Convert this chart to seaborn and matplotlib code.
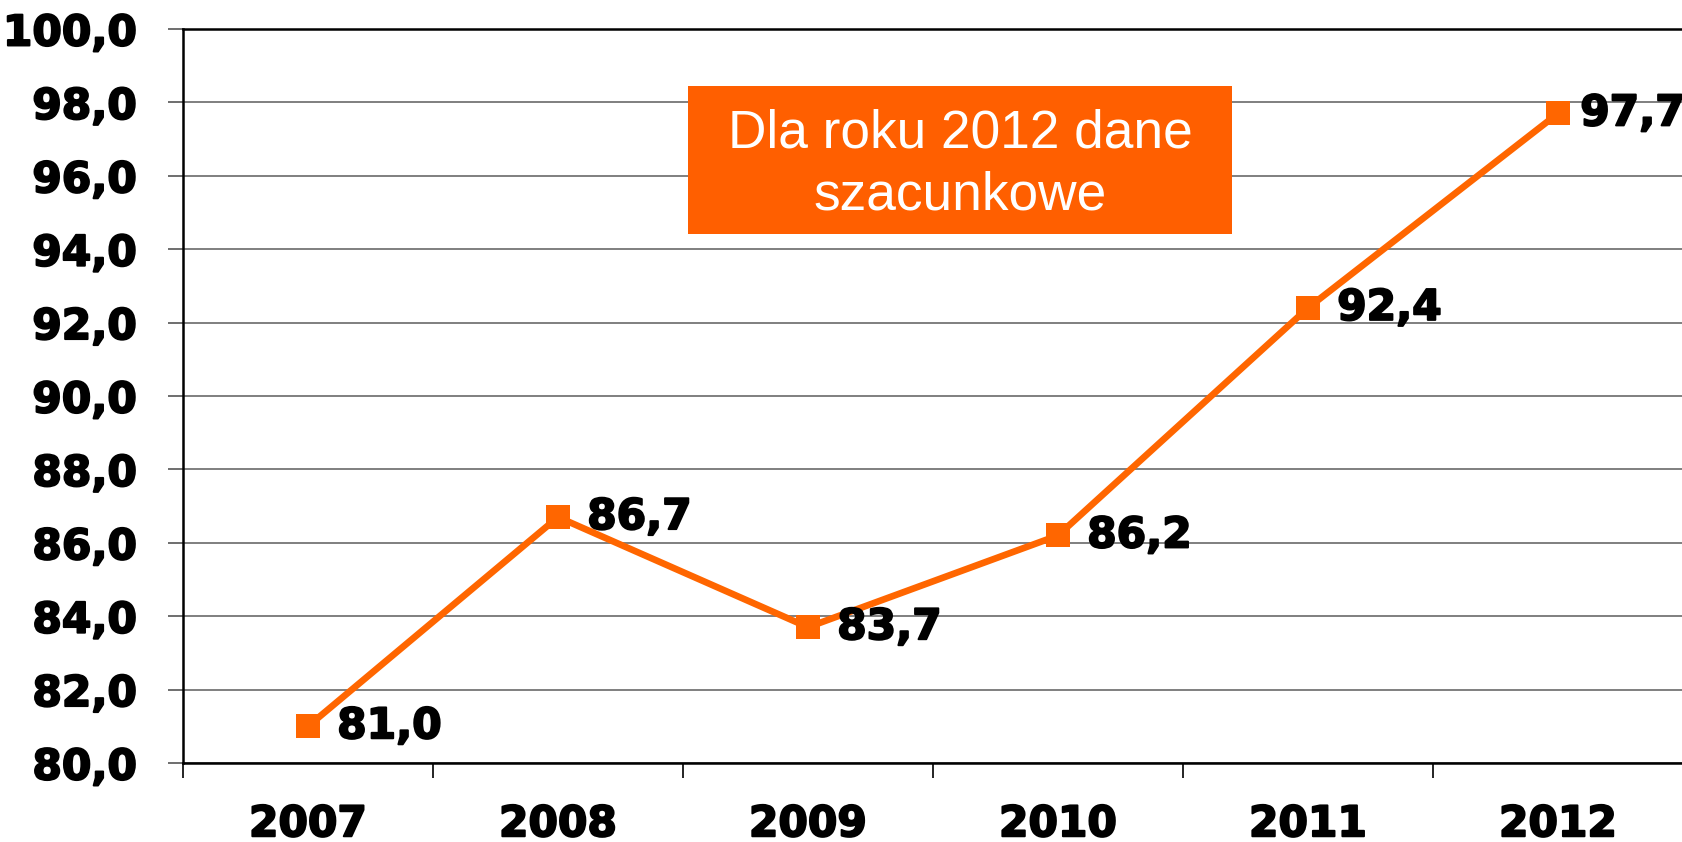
import matplotlib
matplotlib.use("Agg")
import matplotlib.pyplot as plt
import matplotlib.patheffects as pe
from matplotlib.patches import Rectangle
import seaborn as sns
import pandas as pd
from matplotlib.ticker import FuncFormatter, FixedLocator

years = ["2007", "2008", "2009", "2010", "2011", "2012"]
values = [81.0, 86.7, 83.7, 86.2, 92.4, 97.7]
note = "Dla roku 2012 dane\nszacunkowe"

ORANGE = "#FF6600"
heavy = [pe.withStroke(linewidth=1.4, foreground="black")]

df = pd.DataFrame({"year": years, "value": values})

sns.set_style("white")
plt.rcParams["font.family"] = ["DejaVu Sans"]

fig = plt.figure(figsize=(16.83, 8.42), dpi=100)
ax = fig.add_axes([183 / 1683, 79 / 842, 1 - 183 / 1683, (763 - 29) / 842])

sns.lineplot(data=df, x="year", y="value", ax=ax, color=ORANGE, linewidth=4.8,
             marker="s", markersize=17, markeredgewidth=0, sort=False, zorder=3)

ax.set_ylim(80, 100)
ax.set_xlim(-0.5, len(years) - 0.5)
ax.set_yticks([80 + 2 * i for i in range(11)])
ax.yaxis.set_major_formatter(FuncFormatter(lambda v, p: f"{v:.1f}".replace(".", ",")))
ax.grid(axis="y", color="#7f7f7f", linewidth=1.4)
ax.set_axisbelow(True)

ax.set_xticks(range(len(years)))
ax.set_xticklabels(years)
ax.xaxis.set_minor_locator(FixedLocator([i - 0.5 for i in range(len(years) + 1)]))
ax.tick_params(axis="x", which="major", bottom=True, length=0, pad=29, labelsize=30.5,
               labelcolor="black")
ax.tick_params(axis="x", which="minor", bottom=True, length=11, width=1.2,
               color="black", direction="out")
ax.tick_params(axis="y", left=True, length=11, width=1.2, color="#555555",
               direction="out", pad=22, labelsize=30.5, labelcolor="black")
for lab in ax.get_xticklabels() + ax.get_yticklabels():
    lab.set_fontweight("bold")
    lab.set_path_effects(heavy)

ax.set_xlabel("")
ax.set_ylabel("")
for side in ["left", "bottom", "top"]:
    ax.spines[side].set_visible(True)
    ax.spines[side].set_color("black")
    ax.spines[side].set_linewidth(1.8)
ax.spines["right"].set_visible(False)

for i, v in enumerate(values):
    dx = 16 if i == len(values) - 1 else 21
    ax.annotate(f"{v:.1f}".replace(".", ","), (i, v), xytext=(dx, 0),
                textcoords="offset points", va="center", ha="left",
                fontsize=30.5, fontweight="bold", color="black", zorder=4,
                path_effects=heavy)

# note box
ax.add_patch(Rectangle((1.52, 94.41), 2.176, 4.04, facecolor="#FF5F00",
                       edgecolor="none", zorder=5))
ax.text(2.608, 96.3, note, ha="center", va="center", fontsize=38.3,
        family=["Liberation Sans", "DejaVu Sans"], color="white", linespacing=1.3,
        zorder=6)

fig.savefig("out.png", dpi=100)
